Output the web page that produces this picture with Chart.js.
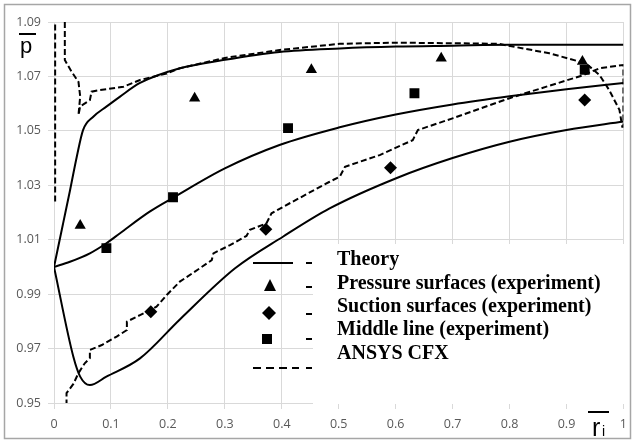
<!DOCTYPE html>
<html><head><meta charset="utf-8">
<script src="https://cdn.jsdelivr.net/npm/chart.js@4/dist/chart.umd.min.js"></script>
<style>html,body{margin:0;padding:0;background:#fff}canvas{display:block}</style>
</head><body>
<canvas id="c" width="635" height="442"></canvas>
<script>
// ---- axis ticks ----
const xTickValues = [0,0.1,0.2,0.3,0.4,0.5,0.6,0.7,0.8,0.9,1];
const xTickLabels = ['0','0.1','0.2','0.3','0.4','0.5','0.6','0.7','0.8','0.9','1'];
const yTickValues = [0.95,0.97,0.99,1.01,1.03,1.05,1.07,1.09];
const yTickLabels = ['0.95','0.97','0.99','1.01','1.03','1.05','1.07','1.09'];

// ---- Theory (solid) ----
const theoryPressureX = [0,0.016,0.028,0.04,0.051,0.069,0.092,0.116,0.151,0.221,0.297,0.396,0.502,0.601,0.7,0.8,0.9,1.0];
const theoryPressureY = [1.000,1.016,1.028,1.0405,1.0503,1.0552,1.0589,1.0626,1.0676,1.073,1.076,1.079,1.0803,1.081,1.0813,1.0816,1.0816,1.0816];
const theoryMiddleX = [0,0.028,0.063,0.092,0.116,0.168,0.209,0.3,0.396,0.5,0.6,0.7,0.8,0.9,1.0];
const theoryMiddleY = [1.000,1.0019,1.005,1.0087,1.0124,1.0203,1.0254,1.0362,1.0448,1.0512,1.0560,1.0597,1.0627,1.0653,1.0676];
const theorySuctionX = [0,0.034,0.046,0.063,0.092,0.151,0.221,0.318,0.402,0.484,0.601,0.7,0.8,0.9,1.0];
const theorySuctionY = [1.000,0.967,0.9597,0.9566,0.9597,0.9664,0.9807,0.9995,1.0111,1.0215,1.0326,1.040,1.046,1.0503,1.0534];

// ---- ANSYS CFX (dashed) ----
const cfxPressureX = [0.019,0.019,0.031,0.043,0.046,0.043,0.046,0.063,0.066,0.081,0.122,0.151,0.198,0.221,0.3,0.396,0.502,0.601,0.7,0.78,0.87,0.934,0.958,0.975,0.993,0.998,1.0];
const cfxPressureY = [1.09,1.076,1.0717,1.068,1.0626,1.0558,1.059,1.0613,1.0644,1.065,1.0662,1.0687,1.0711,1.073,1.0768,1.0797,1.082,1.0824,1.0822,1.082,1.0785,1.0748,1.0705,1.065,1.0577,1.0515,1.0515];
const cfxSuctionX = [0.022,0.022,0.034,0.043,0.054,0.063,0.063,0.084,0.11,0.128,0.128,0.151,0.18,0.198,0.221,0.256,0.277,0.28,0.309,0.338,0.344,0.373,0.382,0.414,0.484,0.502,0.511,0.572,0.63,0.639,0.70,0.8,0.93,0.958,1.0];
const cfxSuctionY = [0.95,0.9536,0.957,0.961,0.9646,0.9665,0.9695,0.9713,0.9744,0.9768,0.9799,0.9823,0.9854,0.9897,0.9946,0.9995,1.0025,1.005,1.008,1.0114,1.0136,1.016,1.0197,1.0234,1.0313,1.0332,1.0368,1.0411,1.0466,1.0503,1.0546,1.062,1.0705,1.073,1.0742];
const cfxAxisX = [0.002,0.002];
const cfxAxisY = [1.024,1.09];

// ---- Experiment markers ----
const expPressureX = [0.046,0.247,0.452,0.680,0.928];
const expPressureY = [1.0152,1.062,1.0725,1.0767,1.0755];
const expSuctionX = [0.17,0.372,0.591,0.932];
const expSuctionY = [0.9835,1.0138,1.0364,1.0613];
const expMiddleX = [0.092,0.209,0.411,0.633,0.932];
const expMiddleY = [1.0069,1.0256,1.051,1.0638,1.0724];

const legendLabels = ['Theory','Pressure surfaces (experiment)','Suction surfaces (experiment)','Middle line (experiment)','ANSYS CFX'];

const pts = (xs, ys) => xs.map((x,i)=>({x, y: ys[i]}));
// closed CFX loop: pressure branch then suction branch reversed
const cfxLoop = pts(cfxPressureX, cfxPressureY).concat(pts(cfxSuctionX, cfxSuctionY).reverse());

const solid = (d) => ({type:'line', data:d, borderColor:'#000', borderWidth:2, pointRadius:0, fill:false, cubicInterpolationMode:'monotone', showLine:true});
const dashed = (d) => ({type:'line', data:d, borderColor:'#000', borderWidth:2, borderDash:[6,3], pointRadius:0, fill:false, tension:0, showLine:true});
const marker = (d, style, r) => ({type:'scatter', data:d, pointStyle:style, pointRadius:r, pointHoverRadius:r, backgroundColor:'#000', borderColor:'#000', borderWidth:0, showLine:false});

const decor = {
  id:'decor',
  beforeDraw(chart){
    const ctx = chart.ctx;
    ctx.save(); ctx.fillStyle='#fff'; ctx.fillRect(0,0,chart.width,chart.height); ctx.restore();
  },
  afterDraw(chart){
    const ctx = chart.ctx;
    ctx.save();
    // legend white box
    ctx.fillStyle='#fff';
    ctx.fillRect(313,244,313,160);
    // line sample
    ctx.strokeStyle='#000'; ctx.lineWidth=2;
    ctx.beginPath(); ctx.moveTo(253,263); ctx.lineTo(293,263); ctx.stroke();
    // dashed sample
    ctx.setLineDash([8,5]);
    ctx.beginPath(); ctx.moveTo(253,368); ctx.lineTo(299,368); ctx.stroke();
    ctx.setLineDash([]);
    ctx.fillStyle='#000';
    // small marks
    [263,287,314,339,368].forEach(y=>ctx.fillRect(306,y-1,6,2));
    // triangle
    ctx.beginPath(); ctx.moveTo(270,279); ctx.lineTo(276,291); ctx.lineTo(264,291); ctx.closePath(); ctx.fill();
    // diamond
    ctx.beginPath(); ctx.moveTo(269,306); ctx.lineTo(276,313); ctx.lineTo(269,320); ctx.lineTo(262,313); ctx.closePath(); ctx.fill();
    // square
    ctx.fillRect(262,334,10,10);
    // texts
    ctx.font='bold 20px "Liberation Serif", "Times New Roman", serif';
    ctx.textBaseline='alphabetic'; ctx.textAlign='left';
    const ys=[265,288.5,312,335,358.5];
    legendLabels.forEach((t,i)=>ctx.fillText(t,337,ys[i]));
    // y axis title  p with overline
    ctx.font='22px "Liberation Sans", Arial, sans-serif';
    ctx.fillText('p',20,53);
    ctx.fillRect(19,33,17,2);
    // x axis title r_i with overline
    ctx.font='25px "Liberation Sans", Arial, sans-serif';
    ctx.fillText('r',592,436);
    ctx.font='14px "Liberation Sans", Arial, sans-serif';
    ctx.fillText('i',602,436);
    ctx.fillRect(588,411,21,2);
    // outer frame
    ctx.strokeStyle='#a6a6a6'; ctx.lineWidth=1.5;
    ctx.strokeRect(4.5,4.5,626,434);
    ctx.restore();
  }
};

const gridColor = '#d9d9d9';
const tickFont = {family:'"Open Sans", "Liberation Sans", sans-serif', size:12.5};

new Chart(document.getElementById('c'), {
  type:'scatter',
  data:{datasets:[
    solid(pts(theoryPressureX, theoryPressureY)),
    solid(pts(theoryMiddleX, theoryMiddleY)),
    solid(pts(theorySuctionX, theorySuctionY)),
    dashed(cfxLoop),
    dashed(pts(cfxAxisX, cfxAxisY)),
    marker(pts(expPressureX, expPressureY),'triangle',6.5),
    marker(pts(expSuctionX, expSuctionY),'rectRot',6.5),
    marker(pts(expMiddleX, expMiddleY),'rect',7)
  ]},
  options:{
    responsive:false, animation:false, devicePixelRatio:1,
    layout:{padding:{left:0,right:11,top:22,bottom:0}},
    plugins:{legend:{display:false}, tooltip:{enabled:false}},
    scales:{
      x:{type:'linear', min:0, max:1,
        afterBuildTicks:(s)=>{s.ticks = xTickValues.map(v=>({value:v}));},
        afterFit:(s)=>{s.height = 39;},
        ticks:{callback:(v,i)=>xTickLabels[i], color:'#595959', font:tickFont, padding:8, maxRotation:0, autoSkip:false},
        grid:{color:gridColor, tickLength:6, lineWidth:1},
        border:{color:gridColor}
      },
      y:{type:'linear', min:0.95, max:1.09,
        afterBuildTicks:(s)=>{s.ticks = yTickValues.map(v=>({value:v}));},
        afterFit:(s)=>{s.width = 54;},
        ticks:{callback:(v,i)=>yTickLabels[i], color:'#595959', font:tickFont, padding:7, autoSkip:false},
        grid:{color:gridColor, tickLength:6, lineWidth:1},
        border:{color:gridColor}
      }
    }
  },
  plugins:[decor]
});
</script>
</body></html>
